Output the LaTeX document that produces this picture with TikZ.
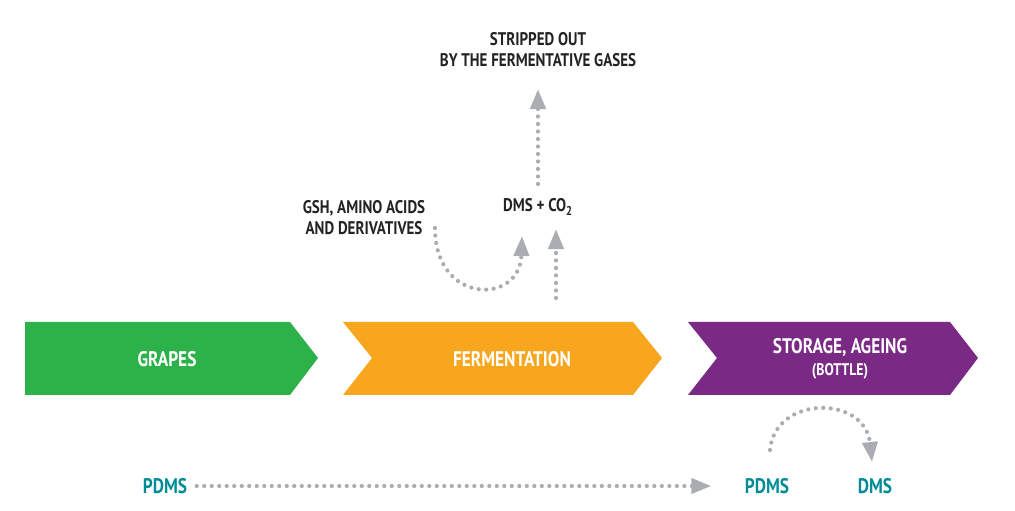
\documentclass[tikz,border=0pt]{standalone}
\usepackage{fontspec}
\setmainfont{PT Sans}[FakeStretch=0.82]
\usetikzlibrary{positioning, calc, arrows.meta}
\definecolor{grapecolor}{RGB}{45,178,74}
\definecolor{fermcolor}{RGB}{247,166,30}
\definecolor{storecolor}{RGB}{122,42,132}
\definecolor{dotcolor}{RGB}{170,173,178}
\definecolor{tealcolor}{RGB}{0,140,150}
\definecolor{labelcolor}{RGB}{35,35,35}
\tikzset{
  %% label : dark label text
  label/.style={
    text=labelcolor,
    font=\bfseries\fontsize{13}{15}\selectfont,
    align=center,
    inner sep=1pt
  },
  %% compound : teal compound name
  compound/.style={
    text=tealcolor,
    font=\bfseries\fontsize{15}{17}\selectfont,
    inner sep=1pt
  },
  %% steptext : text on a chevron
  steptext/.style={
    text=white,
    font=\bfseries\fontsize{15}{17}\selectfont,
    align=center
  },
  %% dotted : dotted grey connector
  dotflow/.style={
    dotcolor,
    line width=4.2\pxu,
    line cap=round,
    dash pattern=on 0pt off 7.5\pxu,
    -{Triangle[length=20\pxu, width=15\pxu, line cap=butt]}
  }
}
\newcommand{\pxu}{pt*0.7113}
\begin{document}
\begin{tikzpicture}[x=0.025cm, y=-0.025cm]
  \useasboundingbox (0,0) rectangle (1015,511);

  %% Chevrons
  \fill [grapecolor] (25,322) -- (290,322) -- (318,358) -- (290,395)
    -- (25,395) -- cycle;
  \fill [fermcolor] (343,322) -- (633,322) -- (662,358) -- (633,395)
    -- (343,395) -- (372,358) -- cycle;
  \fill [storecolor] (688,322) -- (950,322) -- (978,358) -- (950,395)
    -- (688,395) -- (717,358) -- cycle;

  \node (grapes) [steptext] at (167,359) {GRAPES};
  \node (ferm) [steptext] at (512,359) {FERMENTATION};
  \node (store) [steptext] at (840,359) {STORAGE, AGEING\\[-1pt]
    {\fontsize{12}{14}\selectfont(BOTTLE)}};

  %% Labels
  \node (stripped) [label] at (538,50) {STRIPPED OUT\\BY THE FERMENTATIVE GASES};
  \node (gsh) [label] at (364,218) {GSH, AMINO ACIDS\\AND DERIVATIVES};
  \node (dms) [label] at (538,207) {DMS + CO\textsubscript{2}};
  \node (pdmsa) [compound] at (165,486) {PDMS};
  \node (pdmsb) [compound] at (767,486) {PDMS};
  \node (dmsb) [compound] at (875,486) {DMS};

  %% Dotted flows
  \coordinate (gshout) at (435,228);
  \coordinate (gshin) at (522,236);
  \coordinate (fermout) at (556,298);
  \coordinate (dmsin) at (556,229);
  \coordinate (dmsout) at (538,184);
  \coordinate (stripin) at (538,89);
  \coordinate (pdmsout) at (770,450);
  \coordinate (dmsbin) at (872,462);

  \draw [dotflow] (gshout) .. controls (435,305) and (520,305) .. (gshin);
  \draw [dotflow] (fermout) -- (dmsin);
  \draw [dotflow] (dmsout) -- (stripin);
  \draw [dotflow] (pdmsa.east) ++(8,0) -- ($(pdmsb.west) + (-32,0)$);
  \draw [dotflow] (pdmsout) .. controls (775,395) and (865,395) .. (dmsbin);
\end{tikzpicture}
\end{document}
